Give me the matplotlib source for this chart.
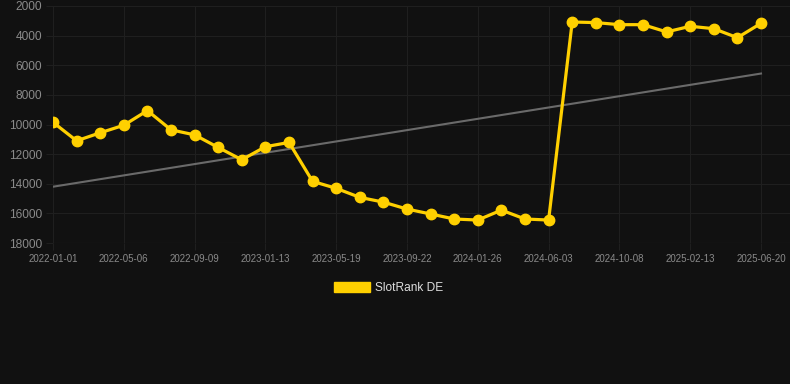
import numpy as np
import matplotlib
matplotlib.use("Agg")
import matplotlib.pyplot as plt
from matplotlib.patches import Patch

plt.rcParams['font.family'] = ['Liberation Sans', 'DejaVu Sans']

# tick labels shown every 3rd point
tick_labels = ['2022-01-01', '2022-05-06', '2022-09-09', '2023-01-13', '2023-05-19',
               '2023-09-22', '2024-01-26', '2024-06-03', '2024-10-08', '2025-02-13',
               '2025-06-20']

# SlotRank DE
rank = [9850, 11100, 10560, 10050, 9060, 10360, 10700, 11550, 12380, 11500,
        11210, 13840, 14310, 14920, 15240, 15710, 16040, 16380, 16450, 15780,
        16380, 16450, 3080, 3120, 3260, 3260, 3750, 3370, 3530, 4140, 3170]

# trend line ends
trend = [14200, 6560]

bg = '#111111'
grid_c = '#1f1f1f'
tick_c = '#8a8a8a'
yellow = '#FFD000'

fig = plt.figure(figsize=(7.9, 3.84), dpi=100, facecolor=bg)
ax = fig.add_axes([53 / 790, 1 - 243 / 384, 1 - 53 / 790, (243 - 6) / 384])
ax.set_facecolor(bg)

x = np.arange(len(rank))
ax.plot([x[0], x[-1]], trend, color='#6a6a6a', lw=1.5, zorder=2)
ax.plot(x, rank, color=yellow, lw=2.3, marker='o', ms=7.5, zorder=3)

ax.set_ylim(18000, 2000)
ax.set_xlim(0, 30 + 29 / 23.6)
ax.set_yticks(np.arange(2000, 18001, 2000))
ax.set_xticks(np.arange(0, len(rank), 3))
ax.set_xticklabels(tick_labels)

ax.grid(True, color=grid_c, lw=0.8)
ax.axhline(18000, color='#2a2a2a', lw=0.8, zorder=1)
for s in ax.spines.values():
    s.set_visible(False)
ax.tick_params(axis='y', colors=grid_c, labelcolor=tick_c, labelsize=8.6, length=5, pad=3)
ax.tick_params(axis='x', colors=grid_c, labelcolor=tick_c, labelsize=7, length=5, pad=3)

fig.legend(handles=[Patch(facecolor=yellow, edgecolor=yellow)], labels=['SlotRank DE'],
           loc='upper center', bbox_to_anchor=(0.492, 1 - 271 / 384), frameon=False,
           fontsize=8.6, labelcolor='#dddddd', handlelength=3.0, handleheight=0.9,
           handletextpad=0.45)

fig.savefig('out.png', dpi=100, facecolor=bg)
